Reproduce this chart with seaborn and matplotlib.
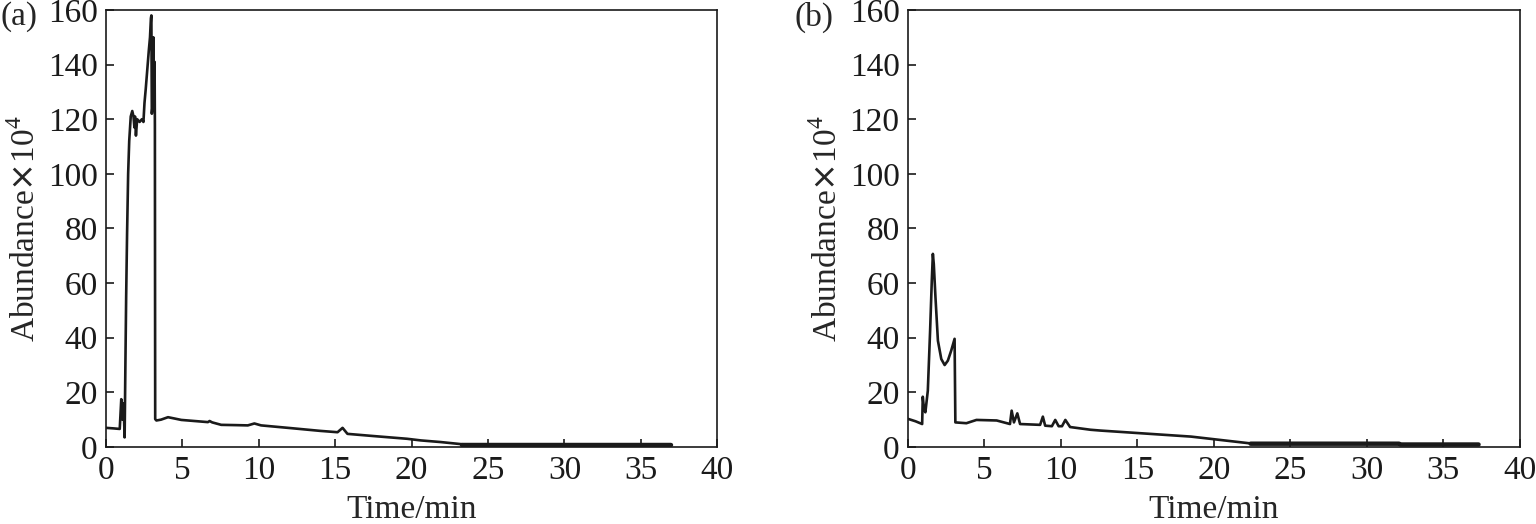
import numpy as np
import pandas as pd
import seaborn as sns
import matplotlib.pyplot as plt

# total ion chromatograms, abundance in units of 10^4
time_a = [0, 0.5, 0.9, 1.0, 1.08, 1.15, 1.22, 1.27, 1.32, 1.38, 1.45, 1.52, 1.62, 1.72,
          1.8, 1.86, 1.9, 1.96, 2.04, 2.2, 2.35, 2.45, 2.52, 2.6, 2.7, 2.8, 2.88, 2.94,
          2.97, 3.0, 3.05, 3.1, 3.13, 3.18, 3.2, 3.21, 3.22, 3.3, 3.6, 4.06, 4.5, 4.93,
          5.8, 6.67, 6.78, 6.95, 7.54, 8.5, 9.28, 9.71, 10.15, 12.1, 14.0, 15.15, 15.48,
          15.8, 17.5, 19.7, 20.6, 21.9, 23.3]
abund_a = [7.0, 6.8, 6.6, 17.5, 10.0, 16.0, 3.5, 30, 55, 78, 100, 112, 121, 123,
           121, 117, 121, 114, 120, 119, 120, 119, 126, 131, 138, 145, 150, 157,
           158, 122, 125, 150, 128, 141, 118, 60, 10.2, 9.7, 10.0, 10.9, 10.4, 9.9,
           9.5, 9.1, 9.5, 9.0, 8.1, 8.0, 7.9, 8.6, 7.9, 6.9, 5.9, 5.4, 7.0,
           4.8, 4.0, 3.0, 2.4, 1.8, 1.0]
tail_time_a = [23.3, 37.0]
tail_abund_a = [0.8, 0.8]

time_b = [0, 0.5, 0.93, 0.97, 1.05, 1.14, 1.3, 1.45, 1.56, 1.63, 1.69, 1.8, 1.96, 2.18,
          2.4, 2.61, 2.83, 3.05, 3.1, 3.82, 4.48, 5.8, 6.67, 6.78, 6.93, 7.15, 7.33,
          8.64, 8.82, 8.97, 9.41, 9.63, 9.85, 10.07, 10.29, 10.6, 11.94, 12.6, 18.5, 22.4]
abund_b = [10.3, 9.4, 8.4, 18.4, 14.0, 12.7, 20.6, 42.6, 60.9, 70.7, 67.0, 54.8, 38.9, 32.2,
           30.0, 31.6, 35.3, 39.6, 9.0, 8.7, 9.9, 9.7, 8.4, 13.3, 9.0, 12.3, 8.4,
           8.1, 11.1, 7.8, 7.6, 9.9, 7.6, 7.6, 9.9, 7.3, 6.3, 6.0, 3.8, 1.3]
tail_time_b = [22.4, 32.1, 32.2, 37.3]
tail_abund_b = [1.2, 1.2, 0.9, 0.9]

sns.set_style('ticks')
plt.rcParams['font.family'] = ['Liberation Serif', 'DejaVu Serif']
plt.rcParams['mathtext.fontset'] = 'custom'
plt.rcParams['mathtext.rm'] = 'Liberation Serif'
plt.rcParams['mathtext.sf'] = 'Noto Sans CJK SC'
plt.rcParams['axes.linewidth'] = 1.2

fig = plt.figure(figsize=(15.36, 5.24), dpi=100)
ax_a = fig.add_axes([0.069, 0.147, 0.398, 0.834])
ax_b = fig.add_axes([0.5911, 0.147, 0.3984, 0.834])

panels = [(ax_a, time_a, abund_a, tail_time_a, tail_abund_a, '(a)', 0.0),
          (ax_b, time_b, abund_b, tail_time_b, tail_abund_b, '(b)', 795 / 1536)]

fs = 24
for ax, t, y, tt, ty, lab, lx in panels:
    sns.lineplot(x=t, y=y, ax=ax, color='#1a1a1a', linewidth=1.9, sort=False, estimator=None)
    sns.lineplot(x=tt, y=ty, ax=ax, color='#1a1a1a', linewidth=3.2, sort=False, estimator=None)
    ax.set_xlim(0, 40)
    ax.set_ylim(0, 160)
    ax.set_xticks(np.arange(0, 41, 5))
    ax.set_yticks(np.arange(0, 161, 20))
    ax.tick_params(direction='in', length=6, width=1.2, labelsize=fs, pad=6,
                   top=False, right=False, colors='#1a1a1a')
    ax.set_xlabel('Time/min', fontsize=fs)
    ax.set_ylabel('$\\mathrm{Abundance}\\mathsf{×}\\mathrm{10}^{4}$', fontsize=fs)
    ax.xaxis.set_label_coords(0.5, -0.108)
    ax.yaxis.set_label_coords(-0.105, 0.5)
    for s in ax.spines.values():
        s.set_color('#1a1a1a')
    fig.text(lx, 1 - 17 / 524, lab, fontsize=fs, ha='left', va='center')

fig.savefig('out.png', dpi=100)
